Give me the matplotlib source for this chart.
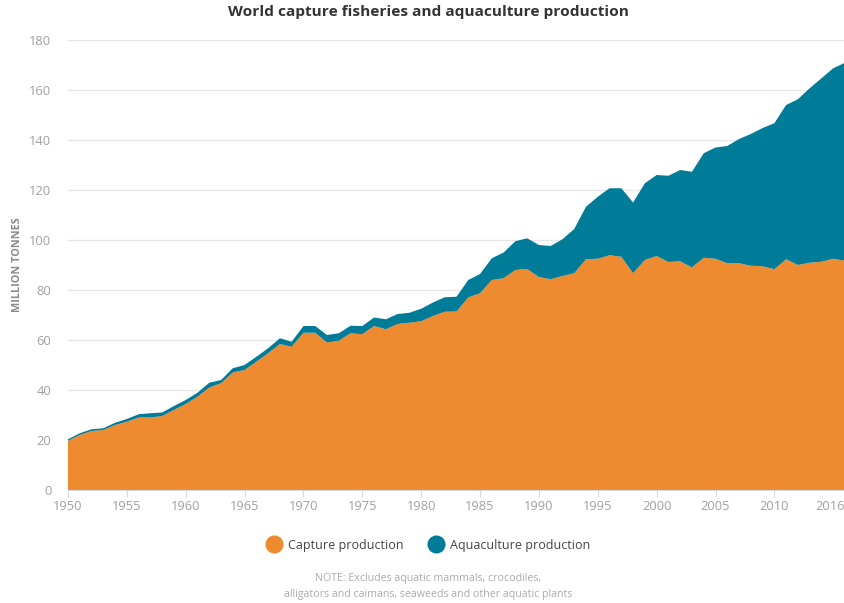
import numpy as np
import matplotlib
matplotlib.use("Agg")
import matplotlib.pyplot as plt
from matplotlib.lines import Line2D

plt.rcParams["font.family"] = ["Open Sans", "DejaVu Sans"]

# Production, million tonnes
years = list(range(1950, 2017))
capture = [
    19.7, 22.0, 23.6, 24.0, 26.0, 27.3, 29.0, 29.0, 29.6, 32.0,   # 1950s
    34.4, 37.3, 41.0, 42.7, 47.0, 48.0, 51.3, 54.7, 58.4, 57.3,   # 1960s
    62.9, 62.9, 59.0, 59.7, 62.7, 62.3, 65.6, 64.3, 66.4, 66.9,   # 1970s
    67.5, 69.6, 71.3, 71.4, 77.0, 78.7, 84.0, 84.7, 88.0, 88.4,   # 1980s
    85.2, 84.3, 85.6, 86.7, 92.3, 92.5, 93.9, 93.3, 86.7, 92.0,   # 1990s
    93.6, 91.2, 91.5, 89.0, 92.9, 92.5, 90.7, 90.7, 89.7, 89.5,   # 2000s
    88.3, 92.3, 90.0, 90.9, 91.3, 92.5, 91.7,                     # 2010s
]
total = [
    20.3, 22.7, 24.3, 24.7, 26.9, 28.4, 30.3, 30.7, 31.0, 33.6,
    36.0, 38.9, 42.9, 44.0, 48.7, 50.0, 53.3, 56.7, 60.7, 59.3,
    65.6, 65.6, 62.0, 62.7, 65.7, 65.6, 69.0, 68.3, 70.4, 70.9,
    72.5, 75.0, 77.1, 77.3, 84.0, 86.4, 92.7, 95.0, 99.5, 100.7,
    98.0, 97.6, 100.3, 104.4, 113.3, 117.3, 120.7, 120.7, 115.0, 122.7,
    126.0, 125.7, 128.0, 127.3, 134.7, 137.0, 137.6, 140.4, 142.4, 144.8,
    146.7, 154.0, 156.3, 160.7, 164.7, 168.7, 170.9,
]
aquaculture = [t - c for t, c in zip(total, capture)]

orange = "#EE8A2F"
teal = "#007C99"
grey = "#a0a0a0"

fig = plt.figure(figsize=(8.45, 6.03), dpi=100)
ax = fig.add_axes([68 / 845, 113 / 603, 777 / 845, 450 / 603])

ax.stackplot(years, capture, aquaculture, colors=[orange, teal], linewidth=0)

ax.set_xlim(1950, 2016)
ax.set_ylim(0, 180)
ax.set_yticks(range(0, 181, 20))
xt = list(range(1950, 2011, 5)) + [2016]
ax.set_xticks(xt)
ax.set_xticklabels([str(v) for v in xt])
ax.get_xticklabels()[-1].set_horizontalalignment("right")

ax.grid(axis="y", color="#e6e6e6", linewidth=1)
ax.set_axisbelow(True)
for s in ["top", "right", "left"]:
    ax.spines[s].set_visible(False)
ax.spines["bottom"].set_color("#cfd8e6")
ax.tick_params(axis="y", length=0, colors=grey, labelsize=9.3, pad=12)
ax.tick_params(axis="x", length=5, color="#cfd8e6", colors=grey, labelsize=9.3, pad=2)

fig.text(18 / 845, 1 - 265 / 603, "MILLION TONNES", rotation=90, ha="center", va="center",
         fontsize=7.8, fontweight="bold", color="#8a8a8a")

fig.text(428 / 845, 1 - 12 / 603, "World capture fisheries and aquaculture production",
         ha="center", va="center", fontsize=11.1, fontweight="bold", color="#333333")

handles = [
    Line2D([0], [0], marker="o", linestyle="None", markersize=13,
           markerfacecolor=orange, markeredgecolor="none", label="Capture production"),
    Line2D([0], [0], marker="o", linestyle="None", markersize=13,
           markerfacecolor=teal, markeredgecolor="none", label="Aquaculture production"),
]
fig.legend(handles=handles, loc="center", bbox_to_anchor=(426 / 845, 1 - 545 / 603),
           ncol=2, frameon=False, fontsize=9.0, handletextpad=0.1, columnspacing=1.6,
           labelcolor="#444444")

fig.text(428 / 845, 1 - 578 / 603, "NOTE: Excludes aquatic mammals, crocodiles,",
         ha="center", va="center", fontsize=7.7, color="#aaaaaa")
fig.text(428 / 845, 1 - 594 / 603, "alligators and caimans, seaweeds and other aquatic plants",
         ha="center", va="center", fontsize=7.7, color="#aaaaaa")

fig.savefig("out.png", dpi=100)
